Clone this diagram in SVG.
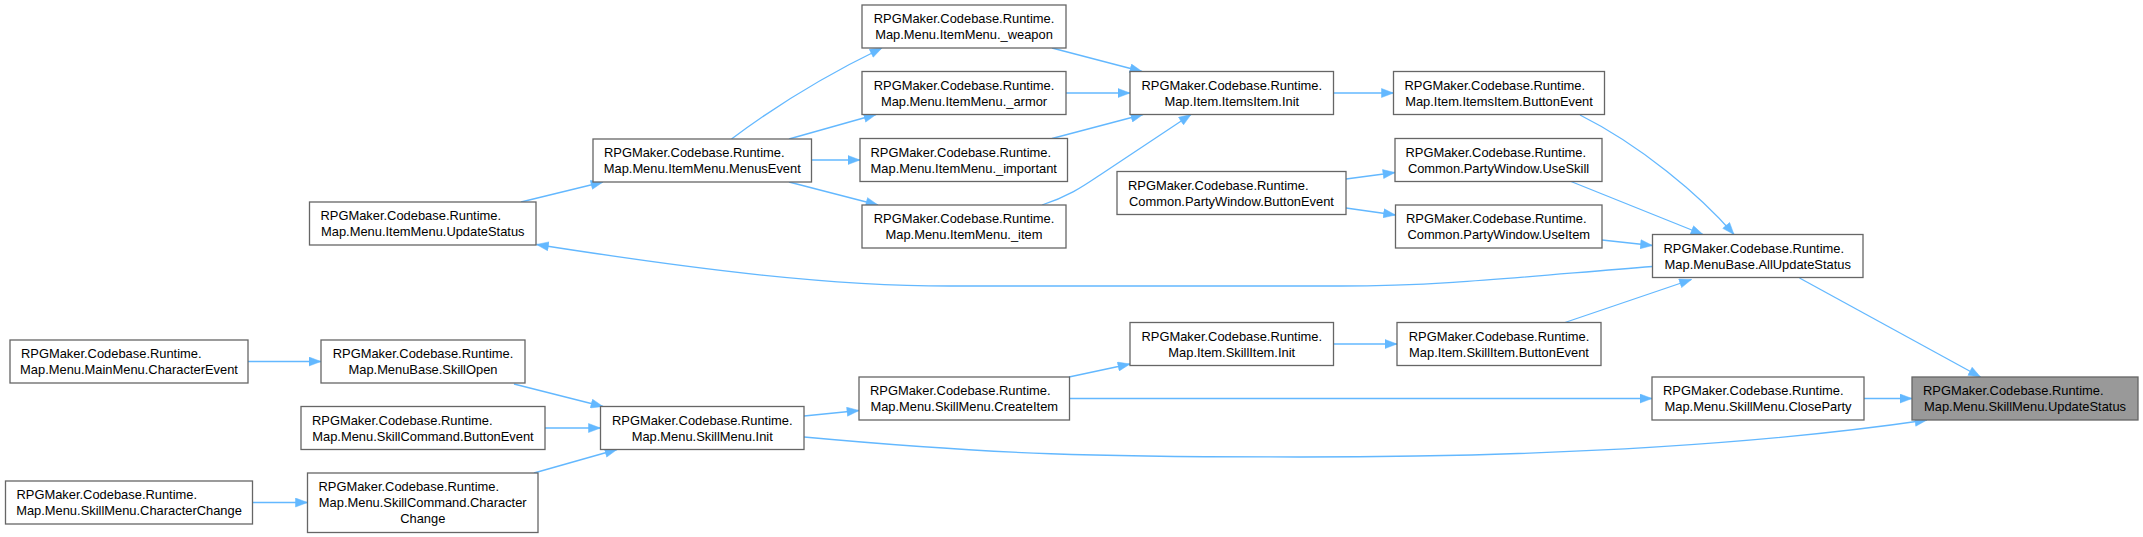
<svg xmlns="http://www.w3.org/2000/svg" width="2143" height="537" viewBox="0 0 2143 537">
<style>
.node rect{fill:#ffffff;stroke:#666666;stroke-width:1.3}
.node.main rect{fill:#999999}
.node text{font-family:"Liberation Sans",Arial,Helvetica,sans-serif;font-size:12.9px;fill:#000000}
.c{text-anchor:middle}
.edges path{fill:none;stroke:#63B8FF;stroke-width:1.3;marker-end:url(#ah)}
</style>
<defs>
<marker id="ah" markerUnits="userSpaceOnUse" markerWidth="13" markerHeight="10" refX="12" refY="5" orient="auto" viewBox="0 0 12 10">
<path d="M0,0.5 L12,5 L0,9.5 z" fill="#63B8FF" stroke="#63B8FF" stroke-width="0.5"/>
</marker>
</defs>
<rect width="2143" height="537" fill="#ffffff"/>
<g id="edges" class="edges">
<path d="M1580,115 C1640,145 1700,195 1734,234.5"/>
<path d="M1571,181.5 L1703,234.5"/>
<path d="M1602,240 L1652.5,245.5"/>
<path d="M1652.5,266.5 C1520,277 1440,286 1340,286 L950,286 C830,286 700,270 536.5,244.5"/>
<path d="M1563.5,323 L1691.5,279.5"/>
<path d="M1799.5,278 L1980.5,377"/>
<path d="M1864,398.5 L1912,398.5"/>
<path d="M804,437 C1000,455 1100,457 1300,457 C1600,457 1790,440 1927,420"/>
<path d="M1069.5,398.5 L1652,398.5"/>
<path d="M1069,377 L1130,364"/>
<path d="M1333.5,344 L1397,344"/>
<path d="M804,416 L859,410.5"/>
<path d="M514,384 L603,406.5"/>
<path d="M545,428 L600.5,428"/>
<path d="M534,473 L617,449.5"/>
<path d="M248,361.5 L321,361.5"/>
<path d="M252.5,502.5 L307.5,502.5"/>
<path d="M521,202 L603,182"/>
<path d="M731.5,139 C770,110 820,78 882,48"/>
<path d="M789,139 L876,114.5"/>
<path d="M811.5,160 L860,160"/>
<path d="M789,182 L878,205"/>
<path d="M1052,48 L1142,71.5"/>
<path d="M1066,93 L1130,93"/>
<path d="M1052,138.5 L1143,114.5"/>
<path d="M1042,205 C1070,196 1085,185 1100,175 C1130,155 1160,135 1191,114.5"/>
<path d="M1333.5,93 L1393.5,93"/>
<path d="M1346,179 L1395,172.5"/>
<path d="M1346,208 L1395.5,215"/>
</g>
<g id="n1" class="node main"><rect x="1912" y="377" width="226" height="43"/><text x="1923" y="395.3">RPGMaker.Codebase.Runtime.</text><text class="c" x="2025" y="411.3">Map.Menu.SkillMenu.UpdateStatus</text></g>
<g id="n2" class="node"><rect x="1652.5" y="234.5" width="210.5" height="43"/><text x="1663.5" y="252.8">RPGMaker.Codebase.Runtime.</text><text class="c" x="1757.75" y="268.8">Map.MenuBase.AllUpdateStatus</text></g>
<g id="n3" class="node"><rect x="1652" y="377" width="212" height="43"/><text x="1663" y="395.3">RPGMaker.Codebase.Runtime.</text><text class="c" x="1758" y="411.3">Map.Menu.SkillMenu.CloseParty</text></g>
<g id="n4" class="node"><rect x="1393.5" y="71.5" width="211" height="43"/><text x="1404.5" y="89.8">RPGMaker.Codebase.Runtime.</text><text class="c" x="1499" y="105.8">Map.Item.ItemsItem.ButtonEvent</text></g>
<g id="n5" class="node"><rect x="1395" y="138.5" width="207" height="43"/><text x="1405.5" y="156.8">RPGMaker.Codebase.Runtime.</text><text class="c" x="1498.5" y="172.8">Common.PartyWindow.UseSkill</text></g>
<g id="n6" class="node"><rect x="1395.5" y="205" width="206.5" height="43"/><text x="1406" y="223.3">RPGMaker.Codebase.Runtime.</text><text class="c" x="1498.75" y="239.3">Common.PartyWindow.UseItem</text></g>
<g id="n7" class="node"><rect x="1397" y="322.5" width="204" height="43"/><text class="c" x="1499" y="340.8">RPGMaker.Codebase.Runtime.</text><text class="c" x="1499" y="356.8">Map.Item.SkillItem.ButtonEvent</text></g>
<g id="n8" class="node"><rect x="1130" y="71.5" width="203.5" height="43"/><text class="c" x="1231.75" y="89.8">RPGMaker.Codebase.Runtime.</text><text class="c" x="1231.75" y="105.8">Map.Item.ItemsItem.Init</text></g>
<g id="n9" class="node"><rect x="1117" y="171.5" width="229" height="43"/><text x="1128" y="189.8">RPGMaker.Codebase.Runtime.</text><text class="c" x="1231.5" y="205.8">Common.PartyWindow.ButtonEvent</text></g>
<g id="n10" class="node"><rect x="1130" y="322.5" width="203.5" height="43"/><text class="c" x="1231.75" y="340.8">RPGMaker.Codebase.Runtime.</text><text class="c" x="1231.75" y="356.8">Map.Item.SkillItem.Init</text></g>
<g id="n11" class="node"><rect x="862" y="5" width="204" height="43"/><text class="c" x="964" y="23.3">RPGMaker.Codebase.Runtime.</text><text class="c" x="964" y="39.3">Map.Menu.ItemMenu._weapon</text></g>
<g id="n12" class="node"><rect x="862" y="71.5" width="204" height="43"/><text class="c" x="964" y="89.8">RPGMaker.Codebase.Runtime.</text><text class="c" x="964" y="105.8">Map.Menu.ItemMenu._armor</text></g>
<g id="n13" class="node"><rect x="860" y="138.5" width="207.5" height="43"/><text x="870.5" y="156.8">RPGMaker.Codebase.Runtime.</text><text class="c" x="963.75" y="172.8">Map.Menu.ItemMenu._important</text></g>
<g id="n14" class="node"><rect x="862" y="205" width="204" height="43"/><text class="c" x="964" y="223.3">RPGMaker.Codebase.Runtime.</text><text class="c" x="964" y="239.3">Map.Menu.ItemMenu._item</text></g>
<g id="n15" class="node"><rect x="859" y="377" width="210.5" height="43"/><text x="870" y="395.3">RPGMaker.Codebase.Runtime.</text><text class="c" x="964.25" y="411.3">Map.Menu.SkillMenu.CreateItem</text></g>
<g id="n16" class="node"><rect x="593" y="139" width="218.5" height="43"/><text x="604" y="157.3">RPGMaker.Codebase.Runtime.</text><text class="c" x="702.25" y="173.3">Map.Menu.ItemMenu.MenusEvent</text></g>
<g id="n17" class="node"><rect x="600.5" y="406.5" width="203.5" height="43"/><text class="c" x="702.25" y="424.8">RPGMaker.Codebase.Runtime.</text><text class="c" x="702.25" y="440.8">Map.Menu.SkillMenu.Init</text></g>
<g id="n18" class="node"><rect x="309.5" y="202" width="226.5" height="43"/><text x="320.5" y="220.3">RPGMaker.Codebase.Runtime.</text><text class="c" x="422.75" y="236.3">Map.Menu.ItemMenu.UpdateStatus</text></g>
<g id="n19" class="node"><rect x="321" y="340" width="204" height="43"/><text class="c" x="423" y="358.3">RPGMaker.Codebase.Runtime.</text><text class="c" x="423" y="374.3">Map.MenuBase.SkillOpen</text></g>
<g id="n20" class="node"><rect x="301" y="406.5" width="244" height="43"/><text x="312" y="424.8">RPGMaker.Codebase.Runtime.</text><text class="c" x="423" y="440.8">Map.Menu.SkillCommand.ButtonEvent</text></g>
<g id="n21" class="node"><rect x="307.5" y="473" width="230.5" height="59.5"/><text x="318.5" y="491.3">RPGMaker.Codebase.Runtime.</text><text class="c" x="422.75" y="507.3">Map.Menu.SkillCommand.Character</text><text class="c" x="422.75" y="523.3">Change</text></g>
<g id="n22" class="node"><rect x="10" y="340" width="238" height="43"/><text x="21" y="358.3">RPGMaker.Codebase.Runtime.</text><text class="c" x="129" y="374.3">Map.Menu.MainMenu.CharacterEvent</text></g>
<g id="n23" class="node"><rect x="5.5" y="481" width="247" height="43"/><text x="16.5" y="499.3">RPGMaker.Codebase.Runtime.</text><text class="c" x="129" y="515.3">Map.Menu.SkillMenu.CharacterChange</text></g>
</svg>
